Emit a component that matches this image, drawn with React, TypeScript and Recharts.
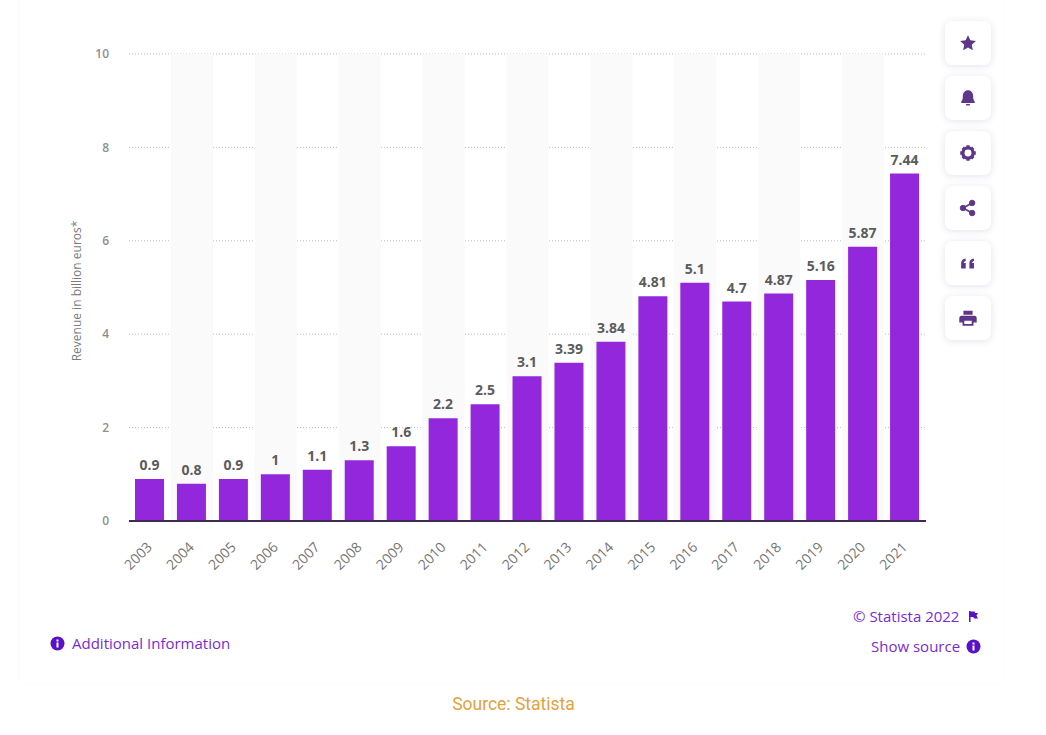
import React from 'react';
import { BarChart, Bar, XAxis, YAxis, CartesianGrid, LabelList, ReferenceArea } from 'recharts';

const years = ['2003', '2004', '2005', '2006', '2007', '2008', '2009', '2010', '2011', '2012', '2013', '2014', '2015', '2016', '2017', '2018', '2019', '2020', '2021'];
const revenue = [0.9, 0.8, 0.9, 1, 1.1, 1.3, 1.6, 2.2, 2.5, 3.1, 3.39, 3.84, 4.81, 5.1, 4.7, 4.87, 5.16, 5.87, 7.44];
const yTicks = [0, 2, 4, 6, 8, 10];
const stripedYears = years.filter((_, i) => i % 2 === 1);

const data = years.map((year, i) => ({ year, revenue: revenue[i] }));

const ICON_COLOR = '#5e3788';
const LINK_COLOR = '#7a2bd0';
const FONT = '"Open Sans", sans-serif';

const icons = [
  <path key="star" d="M12 3.5l2.6 5.6 6 .7-4.5 4.1 1.2 6L12 16.9l-5.3 3 1.2-6-4.5-4.1 6-.7z" fill={ICON_COLOR} />,
  <g key="bell" fill={ICON_COLOR}>
    <path d="M12 3.5c-3.4 0-5.6 2.8-5.6 6.4 0 3.2-.6 5-1.8 6.3-.4.5-.1 1.3.6 1.3h13.6c.7 0 1-.8.6-1.3-1.2-1.3-1.8-3.1-1.8-6.3 0-3.6-2.2-6.4-5.6-6.4z" />
    <rect x="9.8" y="18.6" width="4.4" height="1.6" rx="0.8" />
  </g>,
  <g key="gear">
    <circle cx="12" cy="12" r="5.6" fill="none" stroke={ICON_COLOR} strokeWidth="3.6" />
    <path d="M10.2 3.5h3.6v3h-3.6zM10.2 17.5h3.6v3h-3.6zM3.5 10.2h3v3.6h-3zM17.5 10.2h3v3.6h-3zM5 7.5L7.5 5l2 2L7 9.5zM14.5 17l2.5-2.5 2 2L16.500 19zM5 16.500L7 14.500l2.500 2.500-2 2zM14.500 7l2-2 2.500 2.500-2 2z" fill={ICON_COLOR} />
  </g>,
  <g key="share" fill={ICON_COLOR} stroke={ICON_COLOR}>
    <circle cx="6.500" cy="12" r="3" />
    <circle cx="16.500" cy="6.500" r="3" />
    <circle cx="16.500" cy="17.500" r="3" />
    <path d="M6.500 12L16.500 6.500M6.500 12l10 5.500" strokeWidth="2" fill="none" />
  </g>,
  <path key="quote" d="M4.500 18v-5.500c0-3 1.800-5 5-5.300v2.500c-1.300.2-2 1-2 2.300h2V18zM13.500 18v-5.500c0-3 1.800-5 5-5.300v2.500c-1.300.2-2 1-2 2.300h2V18z" fill={ICON_COLOR} />,
  <path key="print" d="M7 4h10v4.500H7zM5 9.500h14a2.500 2.500 0 0 1 2.500 2.500v5H18v3.500H6V17H2.500v-5A2.500 2.500 0 0 1 5 9.500zM8 15v3.500h8V15z" fill={ICON_COLOR} fillRule="evenodd" />,
];

function InfoDot({ x, y }: { x: number; y: number }) {
  return (
    <svg style={{ position: 'absolute', left: x, top: y }} width="15" height="15" viewBox="0 0 15 15">
      <circle cx="7.500" cy="7.500" r="7" fill="#5a0fc8" />
      <rect x="6.500" y="6.500" width="2" height="5" fill="#fff" />
      <rect x="6.500" y="3.500" width="2" height="2" fill="#fff" />
    </svg>
  );
}

function textAt(x: number, y: number, extra: React.CSSProperties): React.CSSProperties {
  return { position: 'absolute', left: x, top: y, fontFamily: FONT, whiteSpace: 'nowrap', lineHeight: '20px', ...extra };
}

export default function App() {
  return (
    <div style={{ position: 'absolute', left: 0, top: 0, width: 1046, height: 735, background: '#fff', overflow: 'hidden' }}>
      <div style={{ position: 'absolute', left: 20, top: -20, width: 983, height: 703, boxShadow: '0 0 5px rgba(90,60,130,0.025)' }} />
      <div style={{ position: 'absolute', left: 0, top: 0 }}>
        <BarChart width={1046} height={735} data={data} margin={{ top: 54, right: 120, bottom: 0, left: 0 }}>
          {stripedYears.map((y) => (
            <ReferenceArea key={y} x1={y} x2={y} fill="#fafafa" fillOpacity={1} stroke="none" ifOverflow="visible" />
          ))}
          <CartesianGrid vertical={false} stroke="#bdbdbd" strokeDasharray="1 2" />
          <XAxis
            dataKey="year"
            height={214}
            interval={0}
            angle={-45}
            textAnchor="end"
            tickLine={false}
            tickSize={0}
            tickMargin={20}
            axisLine={{ stroke: '#3c2c52', strokeWidth: 2 }}
            tick={{ fill: '#757575', fontSize: 14, fontFamily: FONT, dx: -4 }}
          />
          <YAxis
            width={129}
            domain={[0, 10]}
            ticks={yTicks}
            tickLine={false}
            axisLine={false}
            tickSize={0}
            tickMargin={20}
            tick={{ fill: '#8f8f8f', fontSize: 12, fontWeight: 600, fontFamily: FONT }}
          />
          <Bar dataKey="revenue" fill="#9327db" barSize={29} isAnimationActive={false}>
            <LabelList dataKey="revenue" position="top" offset={9} fill="#5c5c5c" fontSize={14} fontWeight={700} fontFamily={FONT} />
          </Bar>
        </BarChart>
      </div>

      <svg style={{ position: 'absolute', left: 60, top: 191 }} width="32" height="200">
        <text x="21" y="100" transform="rotate(-90 21 100)" textAnchor="middle" fill="#7b7b7b" fontSize="12" fontFamily={FONT}>
          Revenue in billion euros*
        </text>
      </svg>

      {icons.map((icon, i) => (
        <div
          key={i}
          style={{
            position: 'absolute', left: 945, top: 21 + i * 55, width: 46, height: 44, borderRadius: 7,
            background: '#fff', boxShadow: '0 1px 7px rgba(70,40,110,0.14)',
          }}
        >
          <svg style={{ position: 'absolute', left: 12, top: 11 }} width="22" height="22" viewBox="0 0 24 24">{icon}</svg>
        </div>
      ))}

      <InfoDot x={50} y={636} />
      <div style={textAt(72, 633, { color: LINK_COLOR, fontSize: 15 })}>Additional Information</div>
      <div style={textAt(853, 606, { color: LINK_COLOR, fontSize: 15 })}>© Statista 2022</div>
      <svg style={{ position: 'absolute', left: 968, top: 610 }} width="11" height="13" viewBox="0 0 11 13">
        <path d="M1 1h1.500v11H1zM2.500 1.500h4l.7 1.500H10L8.500 5.500 10 8.500H6L5.300 7H2.500z" fill="#5a0fc8" />
      </svg>
      <div style={textAt(871, 636, { color: LINK_COLOR, fontSize: 15 })}>Show source</div>
      <InfoDot x={966} y={639} />

      <div style={{ position: 'absolute', left: 0, width: 1027, top: 694, textAlign: 'center', color: '#e0a33e', fontSize: 17.5, fontFamily: 'Roboto, sans-serif', lineHeight: '20px' }}>
        Source: Statista
      </div>
    </div>
  );
}
